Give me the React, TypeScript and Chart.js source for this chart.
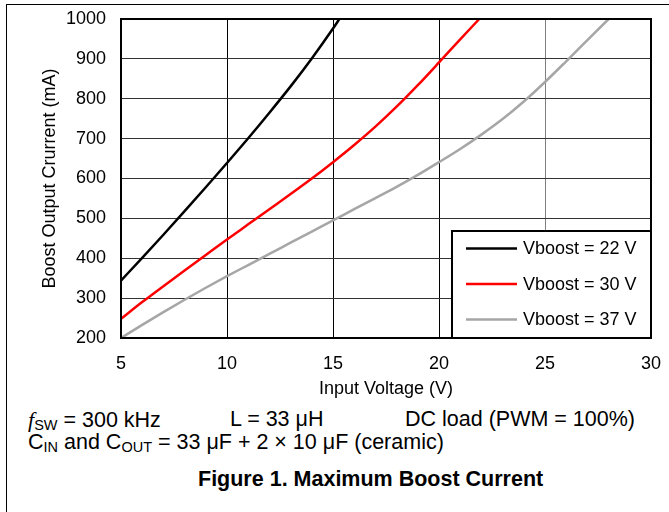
import React, { useEffect, useRef } from "react";
import { Chart, registerables } from "chart.js";

Chart.register(...registerables);

// ---- data ----
const voltage22 = [5, 6, 7, 8, 9, 10, 11, 12, 13, 14, 15, 15.3];
const current22 = [344, 401, 459, 518, 578, 639, 701, 765, 831, 901, 976, 1000];

const voltage30 = [5, 6, 7, 8, 9, 10, 11, 12, 13, 14, 15, 16, 17, 18, 19, 20, 21, 21.9];
const current30 = [248, 290, 330, 369, 408, 447, 485, 523, 561, 600, 641, 684, 730, 780, 834, 891, 949, 1000];

const voltage37 = [5, 6, 7, 8, 9, 10, 11, 12, 13, 14, 15, 16, 17, 18, 19, 20, 21, 22, 23, 24, 25, 26, 27, 28];
const current37 = [200, 233, 265, 296, 326, 355, 383, 411, 439, 467, 495, 523, 551, 579, 609, 641, 674, 710, 749, 793, 842, 894, 947, 1000];

const seriesLabels = ["Vboost = 22 V", "Vboost = 30 V", "Vboost = 37 V"];
const seriesColors = ["#000000", "#ff0000", "#a6a6a6"];

const xMin = 5;
const xMax = 30;
const xStep = 5;
const yMin = 200;
const yMax = 1000;
const yStep = 100;

const xTitle = "Input Voltage (V)";
const yTitle = "Boost Output Crurrent (mA)";

const FONT = "'Liberation Sans', Arial, Helvetica, sans-serif";

function toPoints(xs: number[], ys: number[]) {
  return xs.map((x, i) => ({ x, y: ys[i] }));
}

const framePlugin = {
  id: "frame",
  afterDatasetsDraw(chart: any) {
    const { ctx, chartArea } = chart;
    ctx.save();
    ctx.lineWidth = 2;
    ctx.strokeStyle = "#000";
    ctx.strokeRect(chartArea.left, chartArea.top, chartArea.right - chartArea.left, chartArea.bottom - chartArea.top);
    ctx.restore();
  },
};

const legendBoxPlugin = {
  id: "legendBox",
  afterDraw(chart: any) {
    const { ctx, chartArea } = chart;
    const w = 199;
    const h = 107;
    const x = chartArea.right - w;
    const y = chartArea.bottom - h;
    ctx.save();
    ctx.fillStyle = "#fff";
    ctx.fillRect(x, y, w, h);
    ctx.lineWidth = 2;
    ctx.strokeStyle = "#000";
    ctx.strokeRect(x, y, w, h);
    chart.data.datasets.forEach((ds: any, i: number) => {
      const cy = y + 17.5 + i * 35.5;
      ctx.strokeStyle = ds.borderColor;
      ctx.lineWidth = 2.5;
      ctx.beginPath();
      ctx.moveTo(x + 14, cy);
      ctx.lineTo(x + 65, cy);
      ctx.stroke();
      ctx.fillStyle = "#000";
      ctx.font = `18px ${FONT}`;
      ctx.textBaseline = "middle";
      ctx.textAlign = "left";
      ctx.fillText(ds.label, x + 71, cy + 1);
    });
    ctx.restore();
  },
};

function BoostChart() {
  const ref = useRef<HTMLCanvasElement | null>(null);

  useEffect(() => {
    if (!ref.current) return;
    Chart.defaults.font.family = FONT;
    Chart.defaults.color = "#000";
    const series = [
      toPoints(voltage22, current22),
      toPoints(voltage30, current30),
      toPoints(voltage37, current37),
    ];
    const chart = new Chart(ref.current, {
      type: "line",
      data: {
        datasets: series.map((pts, i) => ({
          label: seriesLabels[i],
          data: pts,
          borderColor: seriesColors[i],
          backgroundColor: seriesColors[i],
          borderWidth: 2.5,
          pointRadius: 0,
          cubicInterpolationMode: "monotone" as const,
          fill: false,
        })),
      },
      options: {
        animation: false,
        responsive: false,
        devicePixelRatio: window.devicePixelRatio || 1,
        layout: { padding: { top: 19, right: 18, left: 0, bottom: 0 } },
        plugins: {
          legend: { display: false },
          tooltip: { enabled: false },
        },
        scales: {
          x: {
            type: "linear",
            min: xMin,
            max: xMax,
            afterFit(scale: any) {
              scale.height = 62;
              scale.paddingLeft = 0;
              scale.paddingRight = 0;
            },
            ticks: {
              stepSize: xStep,
              padding: 15,
              color: "#000",
              font: { size: 18 },
              maxRotation: 0,
              callback: (v: any) => String(v),
            },
            grid: {
              drawTicks: false,
              lineWidth: 1,
              color: (c: any) => (c.tick && c.tick.value === 25 ? "#808080" : "#000000"),
            },
            border: { display: false },
            title: {
              display: true,
              text: xTitle,
              color: "#000",
              font: { size: 18 },
              padding: { top: 0, bottom: 0 },
            },
          },
          y: {
            type: "linear",
            min: yMin,
            max: yMax,
            afterFit(scale: any) {
              scale.width = 121;
              scale.paddingTop = 0;
              scale.paddingBottom = 0;
            },
            ticks: {
              stepSize: yStep,
              padding: 15,
              color: "#000",
              font: { size: 18 },
              callback: (v: any) => String(v),
            },
            grid: {
              drawTicks: false,
              lineWidth: 1,
              color: "#333333",
            },
            border: { display: false },
            title: {
              display: true,
              text: yTitle,
              color: "#000",
              font: { size: 18 },
              padding: { top: 39, bottom: 0 },
            },
          },
        },
      },
      plugins: [framePlugin, legendBoxPlugin],
    });
    return () => chart.destroy();
  }, []);

  return (
    <canvas
      ref={ref}
      width={669}
      height={400}
      style={{ position: "absolute", left: 0, top: 0, width: 669, height: 400 }}
    />
  );
}

const textBase: React.CSSProperties = {
  position: "absolute",
  fontFamily: FONT,
  fontSize: 21.5,
  lineHeight: "21px",
  color: "#000",
  whiteSpace: "nowrap",
};

const subStyle: React.CSSProperties = {
  fontSize: 14.5,
  verticalAlign: -2.5,
  lineHeight: 0,
};

export default function App() {
  return (
    <div
      style={{
        position: "fixed",
        left: 0,
        top: 0,
        width: 669,
        height: 512,
        background: "#fff",
        overflow: "hidden",
      }}
    >
      <div
        style={{
          position: "absolute",
          left: 5.5,
          top: 3.5,
          width: 700,
          height: 600,
          borderTop: "1.5px solid #000",
          borderLeft: "1.5px solid #000",
        }}
      />
      <BoostChart />
      <div style={{ ...textBase, left: 28, top: 408.5 }}>
        <span style={{ fontStyle: "italic", fontFamily: "'Liberation Serif', 'DejaVu Serif', serif", fontSize: 22 }}>f</span>
        <span style={subStyle}>SW</span> = 300 kHz
      </div>
      <div style={{ ...textBase, left: 230, top: 408.5 }}>L = 33 μH</div>
      <div style={{ ...textBase, left: 405, top: 408.5 }}>DC load (PWM = 100%)</div>
      <div style={{ ...textBase, left: 28, top: 431.5 }}>
        C<span style={subStyle}>IN</span> and C<span style={subStyle}>OUT</span> = 33 μF + 2 × 10 μF (ceramic)
      </div>
      <div style={{ ...textBase, left: 198, top: 468.5, fontWeight: "bold" }}>
        Figure 1. Maximum Boost Current
      </div>
    </div>
  );
}
